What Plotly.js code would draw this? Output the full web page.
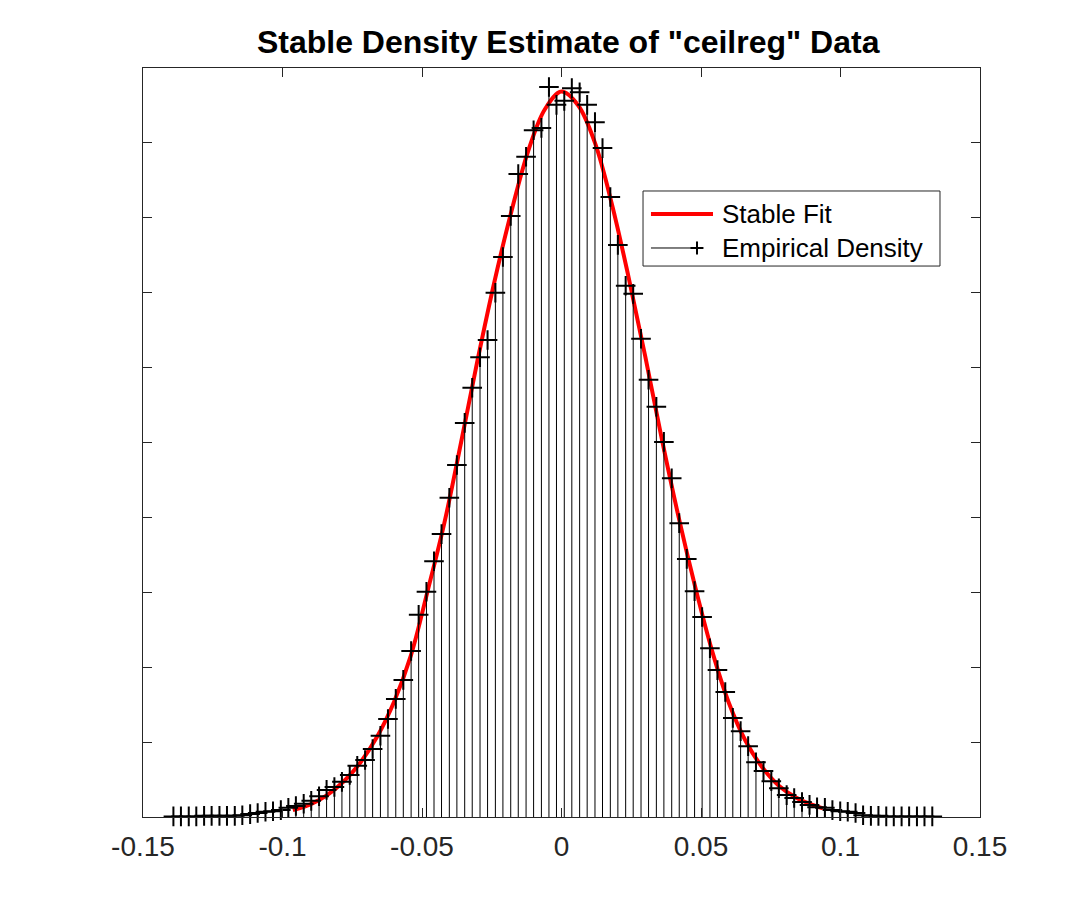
<!DOCTYPE html>
<html>
<head>
<meta charset="utf-8">
<script src="https://cdn.plot.ly/plotly-3.0.1.min.js"></script>
<style>
  html, body { margin: 0; padding: 0; background: #fff; }
  #chart { width: 1084px; height: 919px; }
</style>
</head>
<body>
<div id="chart"></div>
<script>
// Histogram bin centres of the "ceilreg" returns
const binCenters = [
  -0.1391, -0.1364, -0.1336, -0.1309, -0.1281, -0.1254, -0.1226, -0.1199, -0.1171, -0.1144,
  -0.1116, -0.1089, -0.1061, -0.1034, -0.1006, -0.0979, -0.0952, -0.0924, -0.0897, -0.0869,
  -0.0842, -0.0814, -0.0787, -0.0759, -0.0732, -0.0704, -0.0677, -0.0649, -0.0622, -0.0594,
  -0.0567, -0.0539, -0.0512, -0.0484, -0.0457, -0.0430, -0.0402, -0.0375, -0.0347, -0.0320,
  -0.0292, -0.0265, -0.0237, -0.0210, -0.0182, -0.0155, -0.0127, -0.0100, -0.0072, -0.0045,
  -0.0018, 0.0010, 0.0037, 0.0065, 0.0092, 0.0120, 0.0147, 0.0175, 0.0202, 0.0230,
  0.0257, 0.0285, 0.0312, 0.0340, 0.0367, 0.0395, 0.0422, 0.0449, 0.0477, 0.0504,
  0.0532, 0.0559, 0.0587, 0.0614, 0.0642, 0.0669, 0.0697, 0.0724, 0.0752, 0.0779,
  0.0807, 0.0834, 0.0862, 0.0889, 0.0916, 0.0944, 0.0971, 0.0999, 0.1026, 0.1054,
  0.1081, 0.1109, 0.1136, 0.1164, 0.1191, 0.1219, 0.1246, 0.1274, 0.1301, 0.1329
];

// Empirical density in each bin
const empiricalDensity = [
  0.01, 0.01, 0.01, 0.01, 0.02, 0.02, 0.02, 0.02, 0.02, 0.03,
  0.05, 0.07, 0.09, 0.10, 0.12, 0.16, 0.19, 0.23, 0.28, 0.36,
  0.47, 0.52, 0.61, 0.73, 0.89, 0.99, 1.18, 1.41, 1.70, 2.05,
  2.38, 2.88, 3.51, 3.91, 4.44, 4.91, 5.54, 6.11, 6.84, 7.45,
  7.98, 8.28, 9.10, 9.72, 10.43, 11.16, 11.46, 11.92, 11.96, 12.67,
  12.36, 12.43, 12.65, 12.58, 12.36, 12.06, 11.61, 10.76, 9.93, 9.22,
  9.08, 8.30, 7.59, 7.12, 6.51, 5.88, 5.10, 4.48, 3.92, 3.47,
  2.93, 2.55, 2.17, 1.72, 1.49, 1.23, 0.95, 0.80, 0.62, 0.50,
  0.38, 0.33, 0.26, 0.21, 0.17, 0.16, 0.12, 0.10, 0.09, 0.07,
  0.03, 0.02, 0.02, 0.01, 0.01, 0.01, 0.01, 0.01, 0.01, 0.01
];

// Fitted stable density curve
const fitX = [
  -0.0963, -0.0900, -0.0840, -0.0780, -0.0720, -0.0660, -0.0600, -0.0540, -0.0480, -0.0420,
  -0.0360, -0.0300, -0.0240, -0.0180, -0.0120, -0.0060, 0.0000, 0.0060, 0.0120, 0.0180,
  0.0240, 0.0300, 0.0360, 0.0420, 0.0480, 0.0540, 0.0600, 0.0660, 0.0720, 0.0780,
  0.0840, 0.0900, 0.0937
];
const fitY = [
  0.12, 0.22, 0.38, 0.62, 0.95, 1.40, 2.00, 2.80, 3.92, 5.10,
  6.50, 7.95, 9.30, 10.50, 11.55, 12.28, 12.59, 12.35, 11.70, 10.65,
  9.38, 8.00, 6.55, 5.20, 3.98, 2.88, 1.98, 1.32, 0.86, 0.54,
  0.34, 0.21, 0.15
];

const xTicks = [-0.15, -0.1, -0.05, 0, 0.05, 0.1, 0.15];
const xTickText = ['-0.15', '-0.1', '-0.05', '0', '0.05', '0.1', '0.15'];
const seriesNames = ['Stable Fit', 'Empirical Density'];

const Y_TOP = 13;
const yTicks = [];
for (let k = 0; k <= 10; k++) yTicks.push(+(k * Y_TOP / 10).toFixed(3));

// stems: one vertical segment per bin, from the baseline up to the density
const stemX = [], stemY = [];
binCenters.forEach((x, i) => {
  stemX.push(x, x, null);
  stemY.push(0, empiricalDensity[i], null);
});

const AXIS = '#262626';
const FONT = 'Liberation Sans, Arial, Helvetica, sans-serif';

const traces = [
  {
    x: fitX, y: fitY, type: 'scatter', mode: 'lines',
    line: { color: '#ff0000', width: 4, shape: 'spline', smoothing: 1 },
    name: seriesNames[0], showlegend: false, hoverinfo: 'skip'
  },
  {
    x: stemX, y: stemY, type: 'scatter', mode: 'lines',
    line: { color: '#000000', width: 1 },
    connectgaps: false, showlegend: false, hoverinfo: 'skip'
  },
  {
    x: binCenters, y: empiricalDensity, type: 'scatter', mode: 'markers',
    cliponaxis: false,
    marker: { symbol: 'cross-thin-open', size: 14, color: '#000000', line: { color: '#000000', width: 2 } },
    name: seriesNames[1], showlegend: false
  }
];

// legend box drawn in paper space (line sample then label)
const L = { x0: 0.5974, x1: 0.9522, y0: 0.7356, y1: 0.8358 };
const row1 = 0.8051, row2 = 0.7597;
const shapes = [
  { type: 'rect', xref: 'paper', yref: 'paper', x0: L.x0, x1: L.x1, y0: L.y0, y1: L.y1,
    line: { color: AXIS, width: 1 }, fillcolor: '#ffffff', layer: 'above' },
  { type: 'line', xref: 'paper', yref: 'paper', x0: 0.6069, x1: 0.6810, y0: row1, y1: row1,
    line: { color: '#ff0000', width: 4 }, layer: 'above' },
  { type: 'line', xref: 'paper', yref: 'paper', x0: 0.6069, x1: 0.6619, y0: row2, y1: row2,
    line: { color: '#000000', width: 1 }, layer: 'above' },
  { type: 'line', xref: 'paper', yref: 'paper', x0: 0.6541, x1: 0.6696, y0: row2, y1: row2,
    line: { color: '#000000', width: 2 }, layer: 'above' },
  { type: 'line', xref: 'paper', yref: 'paper', x0: 0.6619, x1: 0.6619, y0: row2 - 0.0087, y1: row2 + 0.0087,
    line: { color: '#000000', width: 2 }, layer: 'above' }
];
const annotations = [
  { xref: 'paper', yref: 'paper', x: 0.6895, y: row1, xanchor: 'left', yanchor: 'middle',
    text: seriesNames[0], showarrow: false, font: { family: FONT, size: 26, color: '#000' } },
  { xref: 'paper', yref: 'paper', x: 0.6895, y: row2, xanchor: 'left', yanchor: 'middle',
    text: seriesNames[1], showarrow: false, font: { family: FONT, size: 26, color: '#000' } }
];

const layout = {
  width: 1084, height: 919,
  paper_bgcolor: '#ffffff', plot_bgcolor: '#ffffff',
  margin: { l: 143, r: 104, t: 68, b: 102 },
  showlegend: false,
  font: { family: FONT, color: AXIS },
  title: {
    text: '<b>Stable Density Estimate of "ceilreg" Data</b>',
    x: 0.508, xref: 'paper', xanchor: 'center',
    y: 0.954, yref: 'container', yanchor: 'middle',
    font: { size: 32, color: '#000000', family: FONT }
  },
  xaxis: {
    range: [-0.15, 0.15], tickvals: xTicks, ticktext: xTickText,
    ticks: 'inside', ticklen: 9, tickwidth: 1, tickcolor: AXIS,
    showline: true, linecolor: AXIS, linewidth: 1, mirror: 'allticks',
    showgrid: false, zeroline: false,
    tickfont: { size: 28, color: AXIS }, ticklabelstandoff: 4
  },
  yaxis: {
    range: [0, Y_TOP], tickvals: yTicks, showticklabels: false,
    ticks: 'inside', ticklen: 9, tickwidth: 1, tickcolor: AXIS,
    showline: true, linecolor: AXIS, linewidth: 1, mirror: 'allticks',
    showgrid: false, zeroline: false
  },
  shapes: shapes,
  annotations: annotations
};

Plotly.newPlot('chart', traces, layout, { displayModeBar: false, staticPlot: true });
</script>
</body>
</html>
